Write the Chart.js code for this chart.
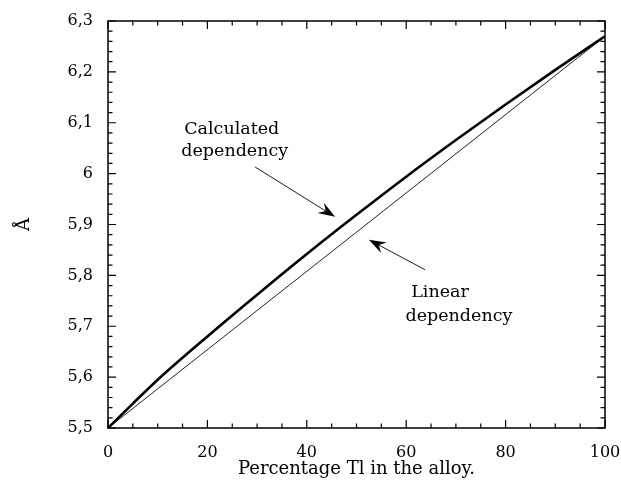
<!DOCTYPE html>
<html>
<head>
<meta charset="utf-8">
<script src="https://cdn.jsdelivr.net/npm/chart.js@4/dist/chart.umd.min.js"></script>
<style>
  html, body { margin: 0; padding: 0; background: #fff; }
  #wrap { width: 621px; height: 488px; }
</style>
</head>
<body>
<div id="wrap"><canvas id="latticeCanvas"></canvas></div>
<script>
// Lattice parameter of the alloy vs. Tl content
const pctTl        = [0, 5, 10, 20, 30, 40, 50, 60, 70, 80, 90, 100];
const calcLattice  = [5.5, 5.548, 5.595, 5.680, 5.762, 5.842, 5.919, 5.994, 6.066, 6.136, 6.204, 6.27];
const linearPct    = [0, 100];
const linearLattice = [5.5, 6.27];

// axis ranges / tick steps
const xRange = [0, 100], xMajor = 20, xMinor = 5;
const yRange = [5.5, 6.3], yMajor = 0.1, yMinor = 0.02;

// callouts, in data units
const callouts = [
  { lines: ['Calculated', 'dependency'], at: [[24.9, 6.087], [25.5, 6.044]],
    from: [29.6, 6.013], to: [45.7, 5.915] },
  { lines: ['Linear', 'dependency'], at: [[66.8, 5.767], [70.6, 5.720]],
    from: [63.8, 5.811], to: [52.5, 5.870] },
];

const SERIF = '"DejaVu Serif", "Liberation Serif", serif';
// decimal comma, whole numbers without decimals
const comma = v => {
  const s = Number(v).toFixed(1);
  return s.endsWith('.0') ? s.slice(0, -2) : s.replace('.', ',');
};

/* ── frame with inward ticks on all four sides ── */
const framePlugin = {
  id: 'frame',
  afterDraw(chart) {
    const { ctx, chartArea: a, scales: { x, y } } = chart;
    ctx.save();
    ctx.strokeStyle = '#000';
    ctx.lineWidth = 1.5;
    ctx.strokeRect(a.left, a.top, a.right - a.left, a.bottom - a.top);

    ctx.lineWidth = 1.2;
    ctx.beginPath();
    const nx = Math.round((xRange[1] - xRange[0]) / xMinor);
    for (let i = 0; i <= nx; i++) {
      const v = xRange[0] + i * xMinor;
      const px = x.getPixelForValue(v);
      const len = (i % Math.round(xMajor / xMinor) === 0) ? 8 : 4.5;
      ctx.moveTo(px, a.bottom); ctx.lineTo(px, a.bottom - len);
      ctx.moveTo(px, a.top);    ctx.lineTo(px, a.top + len);
    }
    const ny = Math.round((yRange[1] - yRange[0]) / yMinor);
    for (let i = 0; i <= ny; i++) {
      const v = yRange[0] + i * yMinor;
      const py = y.getPixelForValue(v);
      const len = (i % Math.round(yMajor / yMinor) === 0) ? 8 : 4.5;
      ctx.moveTo(a.left, py);  ctx.lineTo(a.left + len, py);
      ctx.moveTo(a.right, py); ctx.lineTo(a.right - len, py);
    }
    ctx.stroke();
    ctx.restore();
  },
};

/* ── text callouts with barbed arrowheads ── */
const calloutPlugin = {
  id: 'callouts',
  afterDatasetsDraw(chart) {
    const { ctx, scales: { x, y } } = chart;
    ctx.save();
    ctx.fillStyle = '#000';
    ctx.strokeStyle = '#000';
    ctx.font = '17.5px ' + SERIF;
    ctx.textAlign = 'center';
    ctx.textBaseline = 'middle';
    callouts.forEach(c => {
      c.lines.forEach((t, i) => {
        ctx.fillText(t, x.getPixelForValue(c.at[i][0]), y.getPixelForValue(c.at[i][1]));
      });
      const x0 = x.getPixelForValue(c.from[0]), y0 = y.getPixelForValue(c.from[1]);
      const x1 = x.getPixelForValue(c.to[0]),   y1 = y.getPixelForValue(c.to[1]);
      const ang = Math.atan2(y1 - y0, x1 - x0);
      const headLen = 17, headW = 6;
      ctx.lineWidth = 0.9;
      ctx.beginPath();
      ctx.moveTo(x0, y0);
      ctx.lineTo(x1 - Math.cos(ang) * headLen * 0.6, y1 - Math.sin(ang) * headLen * 0.6);
      ctx.stroke();
      const bx = x1 - Math.cos(ang) * headLen, by = y1 - Math.sin(ang) * headLen;
      const nx = -Math.sin(ang), ny = Math.cos(ang);
      const mx = x1 - Math.cos(ang) * headLen * 0.65, my = y1 - Math.sin(ang) * headLen * 0.65;
      ctx.beginPath();
      ctx.moveTo(x1, y1);
      ctx.lineTo(bx + nx * headW, by + ny * headW);
      ctx.lineTo(mx, my);
      ctx.lineTo(bx - nx * headW, by - ny * headW);
      ctx.closePath();
      ctx.fill();
    });
    ctx.restore();
  },
};

Chart.defaults.font.family = SERIF;
Chart.defaults.color = '#000';

new Chart(document.getElementById('latticeCanvas'), {
  type: 'line',
  plugins: [framePlugin, calloutPlugin],
  data: {
    datasets: [
      {
        label: 'Calculated dependency',
        data: pctTl.map((p, i) => ({ x: p, y: calcLattice[i] })),
        borderColor: '#000',
        borderWidth: 2.6,
        pointRadius: 0,
        cubicInterpolationMode: 'monotone',
      },
      {
        label: 'Linear dependency',
        data: linearPct.map((p, i) => ({ x: p, y: linearLattice[i] })),
        borderColor: '#222',
        borderWidth: 1,
        pointRadius: 0,
      },
    ],
  },
  options: {
    responsive: true,
    maintainAspectRatio: false,
    animation: false,
    layout: { padding: { left: 10, right: 16, top: 21, bottom: 4 } },
    scales: {
      x: {
        type: 'linear',
        min: xRange[0], max: xRange[1],
        grid: { display: false, drawTicks: false },
        border: { display: false },
        ticks: { stepSize: xMajor, padding: 15, font: { size: 16 } },
        title: { display: true, text: 'Percentage Tl in the alloy.', font: { size: 18 } },
        afterFit: s => { s.height = 56; s.paddingLeft = 0; s.paddingRight = 0; },
      },
      y: {
        min: yRange[0], max: yRange[1],
        grid: { display: false, drawTicks: false },
        border: { display: false },
        ticks: { stepSize: yMajor, padding: 15, font: { size: 16 }, callback: v => comma(v) },
        title: { display: true, text: 'Å', font: { size: 18 } },
        afterFit: s => { s.width = 98; s.paddingTop = 0; s.paddingBottom = 0; },
      },
    },
    plugins: {
      legend: { display: false },
      tooltip: { enabled: false },
    },
  },
});
</script>
</body>
</html>
